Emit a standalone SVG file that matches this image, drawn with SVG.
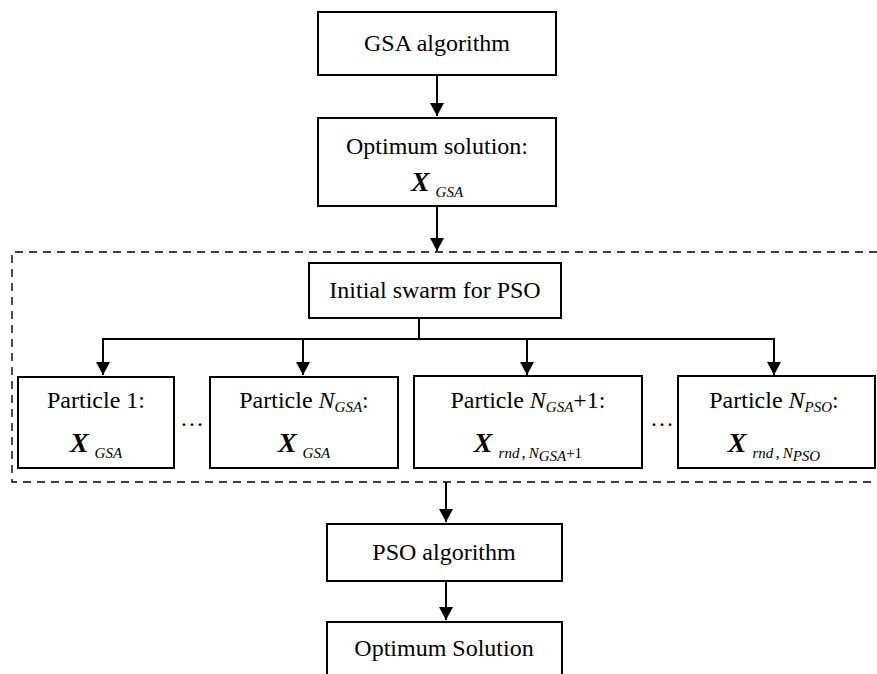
<svg xmlns="http://www.w3.org/2000/svg" width="877" height="674" viewBox="0 0 877 674" font-family="'Liberation Serif', serif">
<style>
.box{fill:#fff;stroke:#000;stroke-width:2}
text{font-family:'Liberation Serif',serif}
.t{font-size:24px;fill:#000;text-anchor:middle}
.bx{font-weight:bold;font-style:italic;font-size:28px}
.it{font-style:italic}
.sub{font-style:italic;font-size:15px}
.con{stroke:#000;stroke-width:2;fill:none}
.dash{stroke:#000;stroke-width:1.4;fill:none;stroke-dasharray:8 6}
</style>
<defs>
<marker id="ah" viewBox="0 0 13 14" refX="13" refY="7" markerWidth="13" markerHeight="14" markerUnits="userSpaceOnUse" orient="auto">
<path d="M0,0 L13,7 L0,14 z" fill="#000"/>
</marker>
</defs>
<rect width="877" height="674" fill="#fff"/>
<path class="dash" d="M877,252 H12 V482 H877"/>
<g id="connectors">
<line class="con" x1="437" y1="75" x2="437" y2="116" marker-end="url(#ah)"/>
<line class="con" x1="437" y1="206" x2="437" y2="251" marker-end="url(#ah)"/>
<line class="con" x1="419" y1="318" x2="419" y2="339"/>
<line class="con" x1="102" y1="339" x2="775" y2="339"/>
<line class="con" x1="103" y1="339" x2="103" y2="375" marker-end="url(#ah)"/>
<line class="con" x1="303" y1="339" x2="303" y2="375" marker-end="url(#ah)"/>
<line class="con" x1="527" y1="339" x2="527" y2="375" marker-end="url(#ah)"/>
<line class="con" x1="774" y1="339" x2="774" y2="375" marker-end="url(#ah)"/>
<line class="con" x1="446" y1="482" x2="446" y2="522" marker-end="url(#ah)"/>
<line class="con" x1="446" y1="581" x2="446" y2="620" marker-end="url(#ah)"/>
</g>
<g id="gsa">
<rect class="box" x="318" y="12" width="238" height="63"/>
<text class="t" x="437" y="51">GSA algorithm</text>
</g>
<g id="opt1">
<rect class="box" x="318" y="118" width="238" height="88"/>
<text class="t" x="437" y="154">Optimum solution:</text>
<text class="t" x="437" y="191"><tspan class="bx">X</tspan><tspan class="sub" dx="6" dy="6">GSA</tspan></text>
</g>
<g id="swarm">
<rect class="box" x="309" y="263" width="252" height="55"/>
<text class="t" x="435" y="298">Initial swarm for PSO</text>
</g>
<g id="p1">
<rect class="box" x="18" y="377" width="156" height="91"/>
<text class="t" x="96" y="408">Particle 1:</text>
<text class="t" x="96" y="452"><tspan class="bx">X</tspan><tspan class="sub" dx="6" dy="6">GSA</tspan></text>
</g>
<text class="t" x="192" y="426">…</text>
<g id="p2">
<rect class="box" x="210" y="377" width="188" height="91"/>
<text class="t" x="304" y="408">Particle <tspan class="it">N</tspan><tspan class="sub" dy="4">GSA</tspan><tspan dy="-4">:</tspan></text>
<text class="t" x="304" y="452"><tspan class="bx">X</tspan><tspan class="sub" dx="6" dy="6">GSA</tspan></text>
</g>
<g id="p3">
<rect class="box" x="414" y="376" width="228" height="92"/>
<text class="t" x="528" y="408">Particle <tspan class="it">N</tspan><tspan class="sub" dy="4">GSA</tspan><tspan dy="-4">+1:</tspan></text>
<text class="t" x="528" y="452"><tspan class="bx">X</tspan><tspan class="sub" dx="6" dy="6">rnd</tspan><tspan font-size="17" dx="2">,</tspan><tspan class="sub" font-size="17" dx="3">N</tspan><tspan class="sub" font-size="11" dy="3">GSA</tspan><tspan font-size="15" dy="-3">+1</tspan></text>
</g>
<text class="t" x="662" y="426">…</text>
<g id="p4">
<rect class="box" x="678" y="376" width="197" height="92"/>
<text class="t" x="774" y="408">Particle <tspan class="it">N</tspan><tspan class="sub" dy="4">PSO</tspan><tspan dy="-4">:</tspan></text>
<text class="t" x="774" y="452"><tspan class="bx">X</tspan><tspan class="sub" dx="6" dy="6">rnd</tspan><tspan font-size="17" dx="2">,</tspan><tspan class="sub" font-size="17" dx="3">N</tspan><tspan class="sub" font-size="11" dy="3">PSO</tspan></text>
</g>
<g id="pso">
<rect class="box" x="327" y="524" width="235" height="57"/>
<text class="t" x="444" y="560">PSO algorithm</text>
</g>
<g id="opt2">
<rect class="box" x="327" y="622" width="235" height="70"/>
<text class="t" x="444" y="656">Optimum Solution</text>
</g>
</svg>
